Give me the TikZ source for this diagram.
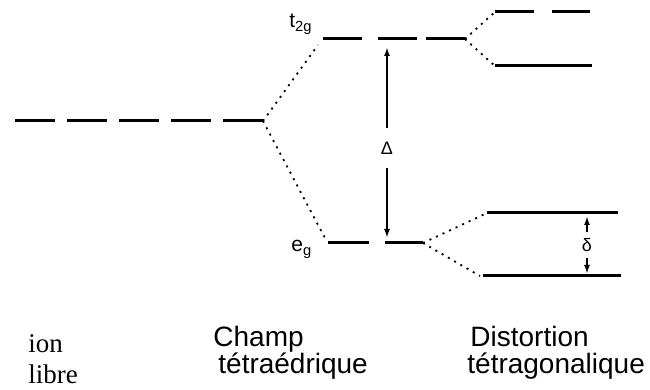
\documentclass[tikz,border=0pt]{standalone}
\usepackage{fontspec}
\setmainfont{Liberation Serif}
\setsansfont{Liberation Sans}
\usetikzlibrary{arrows.meta}

\begin{document}
\begin{tikzpicture}[
        x=0.5pt, y=-0.5pt,
        level/.style={
            line width=1.5pt
        },
        link/.style={
            line width=0.9pt,
            dash pattern=on 1pt off 2.6pt
        },
        gap/.style={
            {Latex[length=4.5pt,width=3pt]}-{Latex[length=4.5pt,width=3pt]},
            line width=1pt
        },
        gaplabel/.style={
            fill=white,
            inner xsep=1pt,
            font=\sffamily\fontsize{9}{10}\selectfont
        },
        term/.style={
            font=\sffamily\fontsize{10.5}{12}\selectfont,
            anchor=base west,
            inner sep=0pt
        },
        caption/.style={
            font=\sffamily\fontsize{14}{16}\selectfont,
            anchor=base west,
            inner sep=0pt
        }
    ]
    \useasboundingbox (0,0) rectangle (650,390);

    % niveaux
    \coordinate (ion-l) at (15,121);
    \coordinate (ion-r) at (263,121);
    \coordinate (t2g-l) at (323,39);
    \coordinate (t2g-r) at (465,39);
    \coordinate (eg-l) at (328,243);
    \coordinate (eg-r) at (423,243);
    \coordinate (tu-l) at (495,12);
    \coordinate (tu-r) at (590,12);
    \coordinate (tl-l) at (495,66);
    \coordinate (tl-r) at (592,66);
    \coordinate (eu-l) at (487,213);
    \coordinate (eu-r) at (618,213);
    \coordinate (el-l) at (483,276);
    \coordinate (el-r) at (621,276);

    \draw[level, dash pattern=on 20pt off 6pt] (ion-l) -- (ion-r);
    \draw[level, dash pattern=on 19.5pt off 8pt on 19.5pt off 4.5pt] (t2g-l) -- (t2g-r);
    \draw[level, dash pattern=on 20.5pt off 8pt on 19pt off 10pt] (eg-l) -- (eg-r);
    \draw[level, dash pattern=on 19.5pt off 9pt on 19pt off 10pt] (tu-l) -- (tu-r);
    \draw[level] (tl-l) -- (tl-r);
    \draw[level] (eu-l) -- (eu-r);
    \draw[level] (el-l) -- (el-r);

    % liaisons
    \draw[link] (ion-r) -- ([shift={(-5,6)}]t2g-l);
    \draw[link] (ion-r) -- ([shift={(-2,-3)}]eg-l);
    \draw[link] (t2g-r) -- (tu-l);
    \draw[link] (t2g-r) -- (tl-l);
    \draw[link] (eg-r) -- (eu-l);
    \draw[link] (eg-r) -- ([shift={(-3,0)}]el-l);

    % ecarts
    \coordinate (Dtop) at (387,47);
    \coordinate (Dbot) at (387,238);
    \draw[gap] (Dtop) -- node[gaplabel, inner ysep=7pt, pos=0.53] {Δ} (Dbot);
    \coordinate (dtop) at (587,216);
    \coordinate (dbot) at (587,274);
    \draw[gap] (dtop) -- node[gaplabel, inner ysep=3pt] {δ} (dbot);

    % etiquettes
    \node[term] (t2g) at (289,28) {t\textsubscript{2g}};
    \node[term] (eg) at (291,252) {e\textsubscript{g}};

    \node[anchor=base west, inner sep=0pt, font=\fontsize{13.5}{16}\selectfont] (ion) at (28,353) {ion};
    \node[anchor=base west, inner sep=0pt, font=\fontsize{13.5}{16}\selectfont] (libre) at (28,384) {libre};
    \node[caption] (champ) at (213,347) {Champ};
    \node[caption] (tetra) at (218,374) {tétraédrique};
    \node[caption] (dist) at (470,347) {Distortion};
    \node[caption] (tetrag) at (467,374) {tétragonalique};
\end{tikzpicture}
\end{document}
